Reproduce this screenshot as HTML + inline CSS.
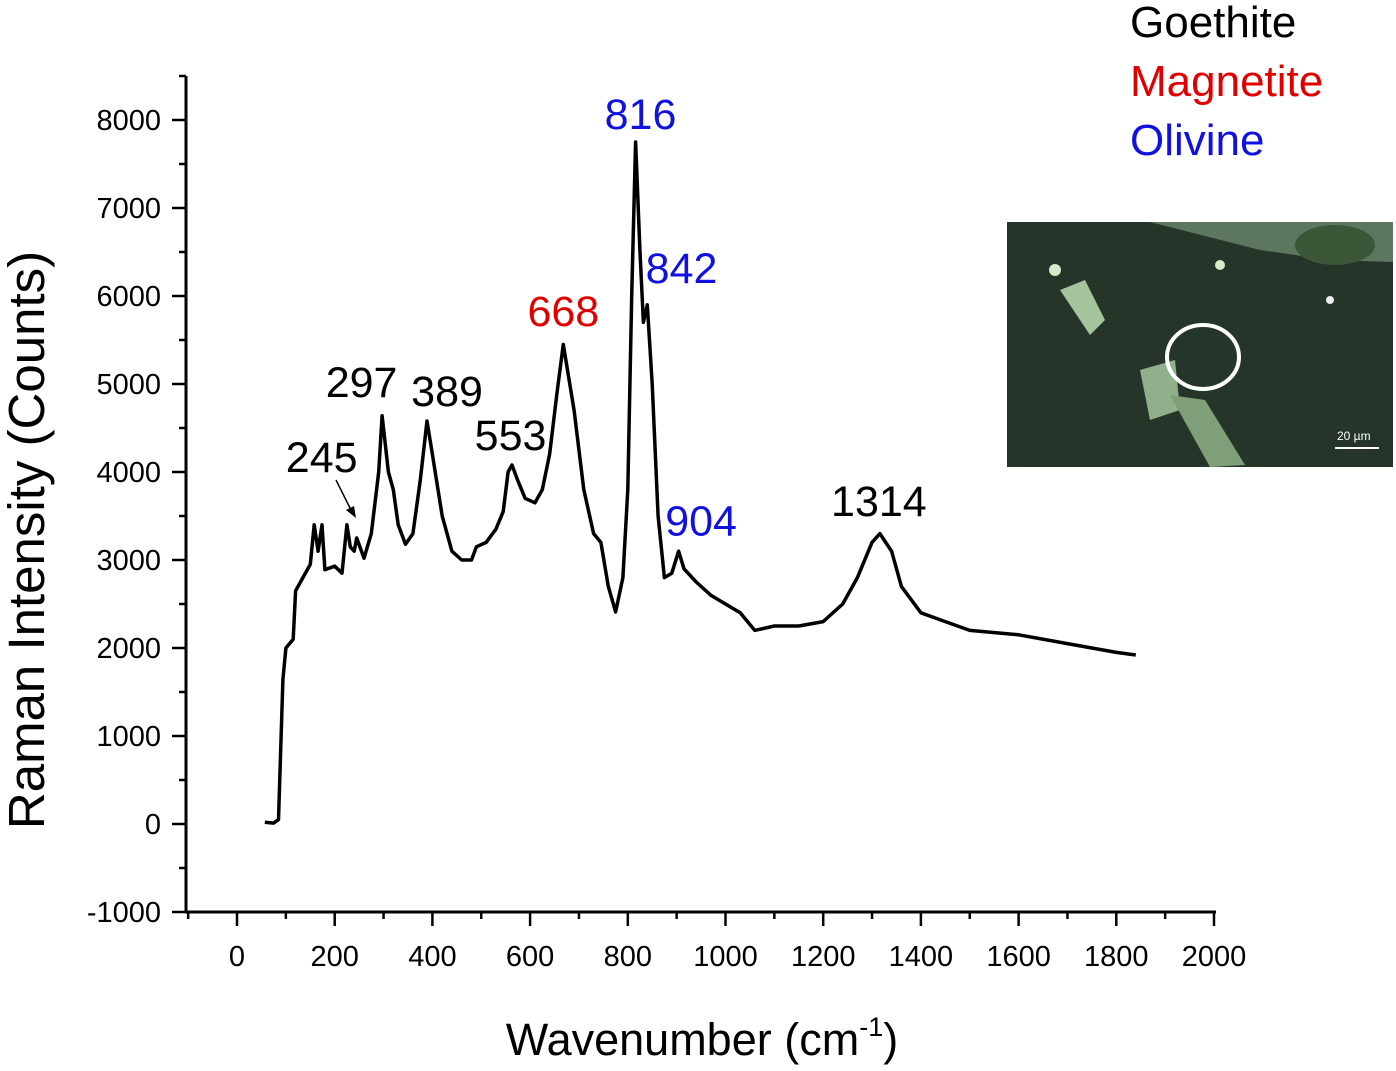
<!DOCTYPE html>
<html><head><meta charset="utf-8"><style>
body{margin:0;background:#fff;width:1396px;height:1066px;overflow:hidden}
svg{font-family:"Liberation Sans",Arial,sans-serif}
</style></head><body>
<svg id="chart" width="1396" height="1066" viewBox="0 0 1396 1066" xmlns="http://www.w3.org/2000/svg">
<g id="axes"></g>
<path id="spectrum" fill="none" stroke="#000" stroke-width="3.5" stroke-linejoin="round"/>
<g id="labels"></g>
<line x1="336" y1="480" x2="352" y2="512" stroke="#000" stroke-width="1.5"/>
<polygon points="356,518 346,510 354,506" fill="#000"/>
<text transform="translate(44,540) rotate(-90)" text-anchor="middle" font-size="51">Raman Intensity (Counts)</text>
<text x="702" y="1055" text-anchor="middle" font-size="45">Wavenumber (cm<tspan dy="-19" font-size="27">-1</tspan><tspan dy="19">)</tspan></text>
<text x="1130" y="37" font-size="44" fill="#000">Goethite</text>
<text x="1130" y="96" font-size="44" fill="#e00000">Magnetite</text>
<text x="1130" y="155" font-size="44" fill="#1010e0">Olivine</text>
<g>
<rect x="1007" y="222" width="386" height="245" fill="#26352a"/>
<polygon points="1150,222 1393,222 1393,262 1330,260 1260,250" fill="#5c7660"/>
<polygon points="1060,290 1085,280 1105,320 1090,335" fill="#a4c49c"/>
<polygon points="1140,370 1175,360 1180,410 1150,420" fill="#8fb08a"/>
<polygon points="1170,395 1205,400 1245,465 1210,467" fill="#7f9f78"/>
<ellipse cx="1335" cy="245" rx="40" ry="20" fill="#3c5638"/>
<circle cx="1055" cy="270" r="6" fill="#d8e8c8"/><circle cx="1220" cy="265" r="5" fill="#d8e8c8"/><circle cx="1330" cy="300" r="4" fill="#eee"/>
<ellipse cx="1203" cy="357" rx="36" ry="32" fill="none" stroke="#fff" stroke-width="4"/>
<text x="1337" y="440" font-size="12" fill="#fff">20 µm</text>
<line x1="1335" y1="448" x2="1379" y2="448" stroke="#fff" stroke-width="2"/>
</g>
</svg>
<script>
var wavenumbers=[57,75,85,94,100,115,120,135,150,158,166,174,180,200,215,225,232,240,245,260,275,290,297,310,320,330,345,360,375,389,400,420,440,460,480,490,510,530,545,555,563,575,590,610,625,640,655,668,690,710,730,745,760,775,790,800,808,816,825,832,840,850,862,875,890,904,915,940,970,1000,1030,1060,1100,1150,1200,1240,1270,1300,1316,1340,1360,1400,1450,1500,1600,1700,1800,1840];
var intensities=[20,10,50,1640,2000,2100,2650,2800,2950,3400,3100,3400,2890,2930,2850,3400,3150,3100,3250,3020,3300,4000,4640,4000,3800,3400,3180,3300,3900,4580,4200,3500,3100,3000,3000,3150,3200,3350,3550,4000,4080,3900,3700,3650,3800,4200,4900,5450,4700,3800,3300,3200,2700,2410,2800,3800,6000,7750,6500,5700,5900,5000,3500,2800,2850,3100,2900,2750,2600,2500,2400,2200,2250,2250,2300,2500,2800,3200,3300,3100,2700,2400,2300,2200,2150,2050,1950,1920];
var xTicks=[0,200,400,600,800,1000,1200,1400,1600,1800,2000];
var yTicks=[-1000,0,1000,2000,3000,4000,5000,6000,7000,8000];
var peakLabels=["245","297","389","553","668","816","842","904","1314"];
var peakColors=["#000","#000","#000","#000","#e00000","#1010e0","#1010e0","#1010e0","#000"];
var peakLabelX=[245,255,430,560,668,826,910,950,1314];
var peakLabelY=[4000,4850,4750,4250,5660,7900,6150,3280,3500];
function X(v){return 237+v*0.4885;}
function Y(v){return 824-v*0.088;}
var NS="http://www.w3.org/2000/svg";
var ax=document.getElementById('axes');
function mk(t,a,p){var e=document.createElementNS(NS,t);for(var k in a)e.setAttribute(k,a[k]);p.appendChild(e);return e;}
var yl=mk('line',{x1:186,y1:76,x2:186,y2:913,stroke:'#000','stroke-width':3},ax);


var xl=mk('line',{x1:185,y1:912,x2:1216,y2:912,stroke:'#000','stroke-width':3},ax);


for(var v=-100;v<=2000;v+=100){var maj=v%200===0;var t=mk('line',{x1:X(v),y1:912,x2:X(v),y2:maj?926:919,stroke:'#000','stroke-width':2.5},ax);

}
for(var v=-1000;v<=8500;v+=500){var maj=v%1000===0;var t=mk('line',{x1:maj?172:179,y1:Y(v),x2:186,y2:Y(v),stroke:'#000','stroke-width':2.5},ax);

}
xTicks.forEach(function(v){var t=mk('text',{x:X(v),y:966,'text-anchor':'middle','font-size':29},ax);t.textContent=v;

});
yTicks.forEach(function(v){var t=mk('text',{x:161,y:Y(v)+10,'text-anchor':'end','font-size':29},ax);t.textContent=v;

});
var d='';for(var i=0;i<wavenumbers.length;i++){d+=(i?'L':'M')+X(wavenumbers[i]).toFixed(1)+','+Y(intensities[i]).toFixed(1);}
document.getElementById('spectrum').setAttribute('d',d);
var lg=document.getElementById('labels');
peakLabels.forEach(function(s,i){var t=mk('text',{x:X(peakLabelX[i])-(i===0?35:0),y:Y(peakLabelY[i]),'text-anchor':'middle','font-size':43,fill:peakColors[i]},lg);t.textContent=s;

});
</script>
</body></html>
